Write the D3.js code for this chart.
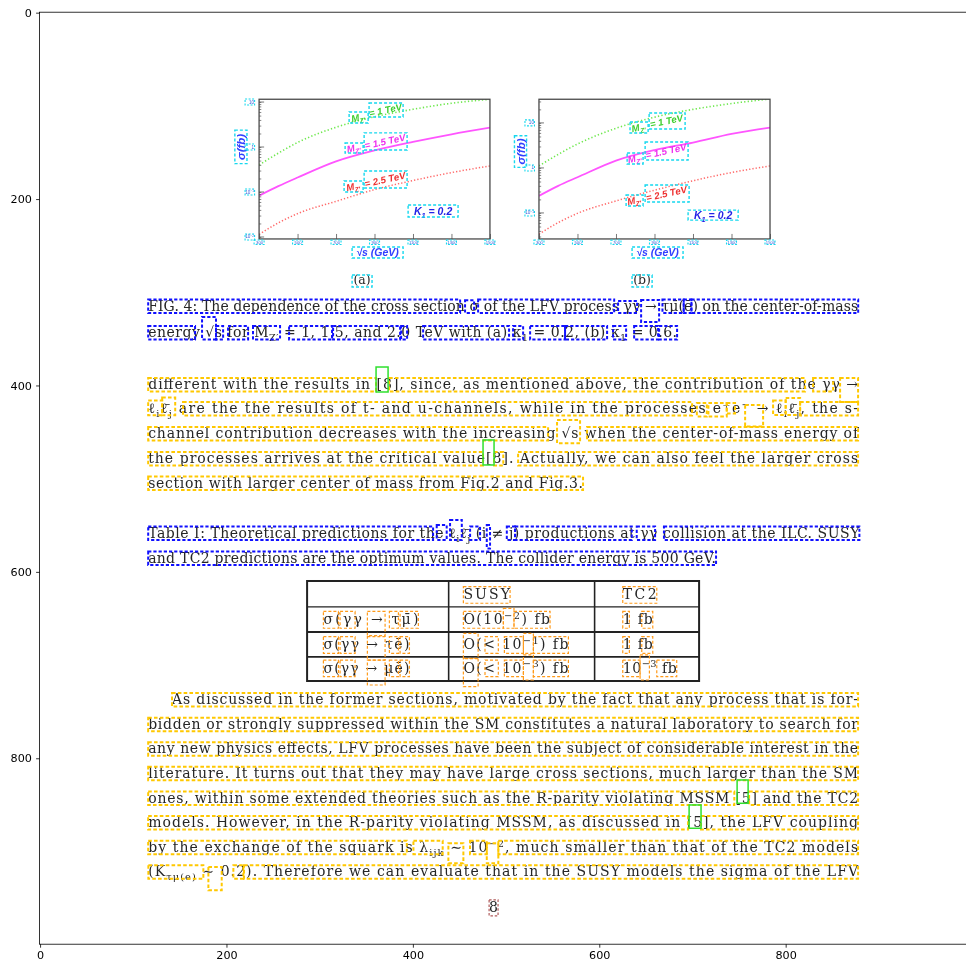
<!DOCTYPE html>
<html>
<head>
<meta charset="utf-8">
<title>Page 8 with layout boxes</title>
<script src="https://cdn.jsdelivr.net/npm/d3@7"></script>
<style>
  html, body { margin: 0; padding: 0; background: #ffffff; }
  svg { display: block; }
</style>
</head>
<body>
<svg id="fig" width="966" height="960"></svg>
<script>
// ---------- image axes (pixel coordinates of the page scan) ----------
const imageExtent = [-0.5, 999.5];
const axisTicks = [0, 200, 400, 600, 800];

// ---------- FIG. 4 panels: sigma (fb) against sqrt(s) (GeV) ----------
const energies = [300, 400, 500, 700, 900, 1100, 1300, 1500];
const energyTicks = [300, 400, 500, 600, 700, 800, 900, 1000, 1100, 1200, 1300, 1400, 1500];
const energyLabels = [300, 500, 700, 900, 1100, 1300, 1500];
const sigmaA_1TeV = [0.40, 0.73, 1.26, 2.75, 4.7, 6.9, 9.4, 11.5];
const sigmaA_15TeV = [0.083, 0.135, 0.21, 0.48, 0.84, 1.30, 1.92, 2.70];
const sigmaA_25TeV = [0.0114, 0.0206, 0.0331, 0.062, 0.113, 0.18, 0.27, 0.38];
const sigmaB_1TeV = [1.11, 2.0, 3.4, 7.6, 13.4, 20, 27, 34];
const sigmaB_15TeV = [0.24, 0.40, 0.62, 1.46, 2.5, 3.66, 5.7, 7.9];
const sigmaB_25TeV = [0.034, 0.061, 0.098, 0.185, 0.32, 0.52, 0.79, 1.11];
const sigmaDecadesA = [10, 1, 0.1, 0.01];
const sigmaDecadesB = [10, 1, 0.1];
const sigmaDecadeText = { 10: "10", 1: "1", 0.1: "10^{−1}", 0.01: "10^{−2}" };

// panel frames [x0, y0, x1, y1] and image rows of sigma = 0.01 and sigma = 10
const panelFrameA = [235, 92.9, 482.7, 242.8];
const panelFrameB = [535.3, 92.9, 783.2, 242.8];
const sigmaRowsA = [240.7, 95.9];
const sigmaRowsB = [263.2, 118.3];

const panelLabelText = ["M_{Z′}", "= 1 TeV", "M_{Z′}", "= 1.5 TeV", "M_{Z′}", "= 2.5 TeV", "K_{1} = 0.2", "√s (GeV)"];
const panelLabelKind = ["z1", "z1", "z15", "z15", "z25", "z25", "k", "axis"];
const panelLabelBoxesA = [
  [331.6, 106.6, 352, 118.4], [353, 96.9, 389.5, 111.9],
  [327.3, 139.8, 346.6, 150.5], [347.7, 129, 393.8, 147.3],
  [326.2, 180.6, 346.6, 192.4], [347.7, 169.9, 393.8, 188.1],
  [394.9, 206.4, 448.5, 219.2], [334.8, 251.4, 389.5, 263.2]
];
const panelLabelBoxesB = [
  [633, 117.3, 652.4, 129.1], [653.5, 107.6, 692.1, 124.8],
  [629.9, 150.5, 647, 162.3], [649.2, 138.7, 695.3, 158.1],
  [628.8, 195.6, 647, 207.4], [649.2, 184.9, 696.4, 203.1],
  [695.3, 211.9, 749, 222.6], [635.2, 251.4, 689.9, 263.2]
];
const panelYTitle = "σ(fb)";
const panelYTitleBoxes = [[209, 126, 222, 162], [509, 132, 522, 166]];
const panelTags = ["(a)", "(b)"];
const panelTagBoxes = [[334.8, 281.4, 356.2, 294.3], [635.2, 281.4, 656.7, 294.3]];

// ---------- running text ----------
const figCaption = [
  "FIG. 4: The dependence of the cross section σ of the LFV process γγ → τμ̄(ē) on the center-of-mass",
  "energy √s for M_{Z′} = 1, 1.5, and 2.0 TeV with (a) κ_{1} = 0.2, (b) κ_{1} = 0.6."
];
const figCaptionRows = [315.2, 343.7];
const figCaptionSpans = [[116, 877.8], [116, 683.5]];

const paragraphOne = [
  "different with the results in [8], since, as mentioned above, the contribution of the γγ →",
  "ℓ_{i}ℓ̄_{j} are the the results of t- and u-channels, while in the processes e^{+}e^{−} → ℓ_{i}ℓ̄_{j}, the s-",
  "channel contribution decreases with the increasing √s when the center-of-mass energy of",
  "the processes arrives at the critical value[8]. Actually, we can also feel the larger cross",
  "section with larger center of mass from Fig.2 and Fig.3."
];
const paragraphOneRows = [399.5, 425.2, 452, 478.9, 505.2];
const paragraphOneSpans = [[116, 877.7], [116, 877.7], [116, 877.7], [116, 877.7], [116, 582.6]];

const tableCaption = [
  "Table I: Theoretical predictions for the ℓ_{i}ℓ̄_{j} (i ≠ j) productions at γγ collision at the ILC. SUSY",
  "and TC2 predictions are the optimum values. The collider energy is 500 GeV."
];
const tableCaptionRows = [558.8, 585.6];
const tableCaptionSpans = [[116, 879.1], [116, 725.3]];

const paragraphTwo = [
  "As discussed in the former sections, motivated by the fact that any process that is for-",
  "bidden or strongly suppressed within the SM constitutes a natural laboratory to search for",
  "any new physics effects, LFV processes have been the subject of considerable interest in the",
  "literature. It turns out that they may have large cross sections, much larger than the SM",
  "ones, within some extended theories such as the R-parity violating MSSM [5] and the TC2",
  "models. However, in the R-parity violating MSSM, as discussed in [5], the LFV coupling",
  "by the exchange of the squark is λ_{ijk} ∼ 10^{−2}, much smaller than that of the TC2 models",
  "(K_{τμ(e)} ∼  0.2). Therefore we can evaluate that in the SUSY models the sigma of the LFV"
];
const paragraphTwoRows = [737.5, 763.9, 790.3, 816.7, 843.1, 869.5, 895.9, 922.3];
const paragraphTwoSpans = [[141.6, 877.7], [116, 877.7], [116, 877.7], [116, 877.7],
                           [116, 877.7], [116, 877.7], [116, 877.7], [116, 877.7]];

const pageNumber = "8";
const pageNumberBox = [481.8, 952, 491.4, 969.2];

// ---------- Table I ----------
const tableCols = [286.5, 438.4, 595, 707.1];
const tableRows = [609.8, 637.6, 664.5, 691.3, 717.1];
const tableHeader = ["SUSY", "TC2"];
const tableProcess = ["σ(γγ → τμ̄)", "σ(γγ → τē)", "σ(γγ → μē)"];
const tableSUSY = ["O(10^{−2}) fb", "O(< 10^{−1}) fb", "O(< 10^{−3}) fb"];
const tableTC2 = ["1 fb", "1 fb", "10^{−3} fb"];
const tableTextRows = [624.8, 651.5, 678.4, 703.6];
const tableProcessSpans = [[304, 405.9], [304, 396.3], [304, 396.3]];
const tableSUSYSpans = [[454.2, 547.2], [454.2, 566.9], [454.2, 566.9]];
const tableTC2Spans = [[625.2, 657.4], [625.2, 657.4], [625.2, 683.1]];
const tableHeaderSpans = [[454.2, 504.3], [625.2, 661.7]];

// ---------- layout boxes [x0, y0, x1, y1] ----------
const captionBoxes = [
  [116, 307.7, 450.7, 322.2], [456, 308.5, 465.7, 322.2], [470, 307.7, 616, 322.2],
  [620.2, 309.3, 640.6, 322.2], [644.9, 308.3, 664.2, 331.9], [667.8, 307.7, 690.6, 322.2],
  [690.6, 307.7, 698.9, 322.2], [698.9, 307.7, 877.8, 322.2],
  [116, 336.2, 166.3, 350.7], [173.8, 326.5, 188.8, 350.7], [188.8, 336.2, 196.4, 350.7],
  [201.7, 336.2, 223.2, 350.7], [228.5, 336.2, 257.5, 350.7], [267.2, 336.2, 313.3, 350.7],
  [314.4, 336.2, 386.3, 350.7], [387.4, 336.2, 393.8, 350.7], [411, 336.2, 503.2, 350.7],
  [507.5, 336.2, 518.3, 350.7], [525.8, 336.2, 563.3, 350.7], [563.3, 336.2, 608.4, 350.7],
  [614.8, 336.2, 628.8, 350.7], [637.4, 336.2, 663.1, 350.7], [664.2, 336.2, 683.5, 350.7],
  [116, 551.3, 421.7, 565.8], [425.6, 549.7, 436.3, 565.8], [439.9, 544.3, 452.5, 565.8],
  [461.4, 551.3, 472.1, 565.8], [479.3, 549.7, 482.8, 574.8], [500.8, 551.3, 509.7, 565.8],
  [509.7, 551.3, 634.9, 565.8], [640.2, 551.3, 659.9, 565.8], [669.4, 551.3, 879.1, 565.8],
  [116, 578.1, 725.3, 592.6]
];
const textBoxes = [
  [116, 392, 360.5, 406.5], [374.5, 392, 820.8, 406.5], [829.4, 392, 850.9, 406.5], [858.4, 391.9, 877.7, 417.7],
  [116, 416, 131, 432], [131, 413, 145, 432], [153.4, 417.7, 699.6, 432.2], [704.7, 418.8, 715.4, 433.3],
  [717.1, 418.8, 736.8, 433.3], [736.8, 418.8, 745.7, 430], [756.5, 420.9, 775.8, 444.1],
  [786.5, 416, 800, 431.6], [800, 413.4, 815.5, 431.6], [815.5, 417.7, 877.7, 432.2],
  [116, 444.5, 545.1, 459], [554.7, 437, 579.4, 462], [586.9, 444.5, 877.7, 459],
  [116, 471.4, 475.3, 485.9], [487.1, 471.4, 497, 485.9], [512.9, 471.4, 877.7, 485.9],
  [116, 497.7, 582.6, 512.2],
  [141.6, 730, 877.7, 744.5], [116, 756.4, 877.7, 770.9], [116, 782.8, 877.7, 797.3],
  [116, 809.2, 877.7, 823.7], [116, 835.6, 744.9, 850.1], [760.8, 835.6, 877.7, 850.1],
  [116, 862, 695.3, 876.5], [709.2, 862, 877.7, 876.5],
  [116, 888.4, 393.5, 902.9], [400.6, 888.4, 432, 902.9], [438.1, 891.3, 454.2, 912.7],
  [461.3, 888.4, 479.3, 902.9], [479.3, 891.3, 491.7, 912.7], [491.7, 888.4, 877.7, 902.9],
  [116.2, 914.8, 175.2, 929.3], [180.6, 916.7, 194.9, 941.7], [207.4, 914.8, 218.1, 929.3],
  [218.8, 914.8, 877.7, 929.3]
];
const citationBoxes = [
  [360.5, 380.2, 373.4, 407], [475.3, 458.5, 487.1, 485.3],
  [747.9, 823.3, 759.7, 848.3], [696.4, 850.1, 709.2, 875.1]
];
const tableBoxes = [
  [454.2, 615.9, 504.3, 633.7], [625.2, 615.9, 661.7, 633.7],
  [304, 642.4, 320.1, 660.5], [321.9, 642.4, 338, 660.5], [351.2, 642.4, 370.2, 668.5],
  [374.8, 642.4, 384.5, 660.5], [386.3, 642.4, 405.9, 660.5], [454.2, 642.4, 497.1, 660.5],
  [497.1, 639.2, 508.5, 660.5], [508.5, 642.4, 547.2, 660.5], [625.2, 642.4, 632.3, 660.5],
  [645.6, 642.4, 657.4, 660.5],
  [304, 669.5, 320.1, 687.4], [321.9, 669.5, 338, 687.4], [351.2, 669.5, 370.2, 694.6],
  [374.8, 669.5, 384.5, 687.4], [386.3, 669.5, 396.3, 687.4], [454.2, 666, 470, 693],
  [477.4, 669.5, 491.7, 687.4], [498.2, 669.5, 518.6, 687.4], [518.6, 666, 529.3, 687.4],
  [529.3, 669.5, 566.9, 687.4], [625.2, 669.5, 632.3, 687.4], [645.6, 669.5, 657.4, 687.4],
  [304, 694.6, 320.1, 712.5], [321.9, 694.6, 338, 712.5], [351.2, 694.6, 370.2, 721.4],
  [374.8, 694.6, 384.5, 712.5], [386.3, 694.6, 396.3, 712.5], [454.2, 692.7, 470, 723.2],
  [477.4, 694.6, 491.7, 712.5], [498.2, 694.6, 518.6, 712.5], [518.6, 689, 529.3, 716],
  [529.3, 694.6, 566.9, 712.5], [625.2, 694.6, 643.8, 712.5], [643.8, 689, 653.8, 716],
  [661.7, 694.6, 683.1, 712.5]
];

// ---------- drawing ----------
const svg = d3.select("#fig");
const x = d3.scaleLinear().domain(imageExtent).range([39.6, 971.6]);
const y = d3.scaleLinear().domain(imageExtent).range([12.2, 944.2]);

const serif = "'DejaVu Serif', 'Liberation Serif', serif";
const sansBI = "'Liberation Sans', Arial, sans-serif";
const ink = "#262626";
const fs = 14;

const defs = svg.append("defs");
defs.append("clipPath").attr("id", "axclip").append("rect")
  .attr("x", x(imageExtent[0])).attr("y", y(imageExtent[0]))
  .attr("width", x(imageExtent[1]) - x(imageExtent[0]))
  .attr("height", y(imageExtent[1]) - y(imageExtent[0]));
defs.append("filter").attr("id", "soft")
  .attr("x", "-2%").attr("y", "-2%").attr("width", "104%").attr("height", "104%")
  .append("feGaussianBlur").attr("stdDeviation", 0.45);

const plot = svg.append("g").attr("clip-path", "url(#axclip)");
const page = plot.append("g").attr("filter", "url(#soft)");
const marks = plot.append("g");

// text with _{sub} and ^{sup} pieces
function rich(sel, str, size) {
  const parts = str.split(/(_\{[^}]*\}|\^\{[^}]*\})/).filter(p => p.length);
  let shift = 0;
  parts.forEach(p => {
    let dy = 0, small = null, txt = p;
    if (p.startsWith("_{")) { txt = p.slice(2, -1); dy = 0.28 * size; small = 0.7 * size; }
    else if (p.startsWith("^{")) { txt = p.slice(2, -1); dy = -0.38 * size; small = 0.7 * size; }
    const t = sel.append("tspan").attr("dy", +(dy - shift).toFixed(2)).text(txt);
    if (small) t.attr("font-size", small);
    shift = dy;
  });
}

function textBlock(lines, rows, spans, size) {
  lines.forEach((s, i) => {
    const t = page.append("text")
      .attr("x", x(spans[i][0]))
      .attr("y", y(rows[i]) + 0.3 * size)
      .attr("font-family", serif).attr("font-size", size).attr("fill", ink)
      .attr("textLength", (x(spans[i][1]) - x(spans[i][0])).toFixed(1))
      .attr("lengthAdjust", "spacing");
    rich(t, s, size);
  });
}

function drawBoxes(list, color, width, dash) {
  marks.append("g").selectAll("rect").data(list).join("rect")
    .attr("x", d => x(d[0])).attr("y", d => y(d[1]))
    .attr("width", d => x(d[2]) - x(d[0])).attr("height", d => y(d[3]) - y(d[1]))
    .attr("fill", "none").attr("stroke", color).attr("stroke-width", width)
    .attr("stroke-dasharray", dash);
}

const kindColor = { z1: "#3fcf2f", z15: "#ee30ee", z25: "#ee3030", k: "#2424e6", axis: "#3040ff" };
const curveStyle = [
  { color: "#6fe84f", width: 1.6, dash: "1.3,2.2" },
  { color: "#ff55ff", width: 1.8, dash: null },
  { color: "#ff6a6a", width: 1.5, dash: "1.3,2.0" }
];
const cyan = "#16d8ee";

function drawPanel(frame, sigmaRows, series, decades, labelBoxes, titleBox, tag, tagBox, idx) {
  const [u0, v0, u1, v1] = frame;
  const xs = d3.scaleLinear().domain([energies[0], energies[energies.length - 1]]).range([x(u0), x(u1)]);
  const ys = d3.scaleLog().domain([0.01, 10]).range([y(sigmaRows[0]), y(sigmaRows[1])]);
  const g = page.append("g");
  const cid = "panelclip" + idx;
  defs.append("clipPath").attr("id", cid).append("rect")
    .attr("x", x(u0)).attr("y", y(v0)).attr("width", x(u1) - x(u0)).attr("height", y(v1) - y(v0));

  const line = d3.line().x(d => xs(d[0])).y(d => ys(d[1])).curve(d3.curveMonotoneX);
  const cg = g.append("g").attr("clip-path", `url(#${cid})`);
  series.forEach((vals, k) => {
    cg.append("path").datum(energies.map((e, i) => [e, vals[i]]))
      .attr("d", line).attr("fill", "none")
      .attr("stroke", curveStyle[k].color).attr("stroke-width", curveStyle[k].width)
      .attr("stroke-dasharray", curveStyle[k].dash);
  });

  // energy ticks pointing up into the frame
  const bottom = g.append("g").attr("transform", `translate(0,${y(v1)})`);
  bottom.call(d3.axisBottom(xs).tickValues(energyTicks).tickSize(-3).tickFormat(""));
  bottom.call(d3.axisBottom(xs).tickValues(energyLabels).tickSize(-5).tickPadding(2).tickFormat(d3.format("d")));
  bottom.selectAll(".domain").remove();
  bottom.selectAll("line").attr("stroke", "#555").attr("stroke-width", 0.8);
  bottom.selectAll("text").attr("font-size", 4.2).attr("fill", "#3a5bd8").attr("font-family", sansBI);

  // log sigma ticks
  const lo = ys.invert(y(v1)), hi = ys.invert(y(v0));
  const minor = [];
  for (let p = -3; p <= 2; p++) for (let m = 1; m < 10; m++) {
    const v = m * Math.pow(10, p);
    if (v >= lo && v <= hi) minor.push(v);
  }
  const left = g.append("g").attr("transform", `translate(${x(u0)},0)`);
  left.call(d3.axisLeft(ys).tickValues(minor).tickSize(-2.2).tickFormat(""));
  left.selectAll(".domain").remove();
  left.selectAll("line").attr("stroke", "#555").attr("stroke-width", 0.7);
  decades.forEach(dv => {
    g.append("line").attr("x1", x(u0)).attr("x2", x(u0) + 5)
      .attr("y1", ys(dv)).attr("y2", ys(dv)).attr("stroke", "#555").attr("stroke-width", 0.8);
    const t = g.append("text").attr("x", x(u0) - 5).attr("y", ys(dv) + 1.5)
      .attr("text-anchor", "end").attr("font-size", 4.6).attr("fill", "#3a5bd8")
      .attr("font-family", sansBI);
    rich(t, sigmaDecadeText[dv], 4.6);
  });

  // frame
  g.append("rect").attr("x", x(u0)).attr("y", y(v0))
    .attr("width", x(u1) - x(u0)).attr("height", y(v1) - y(v0))
    .attr("fill", "none").attr("stroke", "#4a4a4a").attr("stroke-width", 1.3);

  // curve and axis labels
  panelLabelText.forEach((s, i) => {
    const b = labelBoxes[i];
    const kind = panelLabelKind[i];
    const cx = (x(b[0]) + x(b[2])) / 2, cy = (y(b[1]) + y(b[3])) / 2;
    const size = kind === "axis" ? 10.5 : kind === "k" ? 10.5 : 9.6;
    const rot = kind === "axis" || kind === "k" ? 0 : -12;
    const t = g.append("text")
      .attr("transform", `translate(${cx},${cy + size * 0.35}) rotate(${rot})`)
      .attr("text-anchor", "middle")
      .attr("font-family", sansBI).attr("font-weight", "bold").attr("font-style", "italic")
      .attr("font-size", size).attr("fill", kindColor[kind]);
    rich(t, s, size);
  });
  const tcx = (x(titleBox[0]) + x(titleBox[2])) / 2, tcy = (y(titleBox[1]) + y(titleBox[3])) / 2;
  g.append("text").attr("transform", `translate(${tcx + 4},${tcy}) rotate(-90)`)
    .attr("text-anchor", "middle").attr("font-family", sansBI).attr("font-weight", "bold")
    .attr("font-style", "italic").attr("font-size", 11.5).attr("fill", kindColor.axis)
    .text(panelYTitle);
  g.append("text").attr("x", (x(tagBox[0]) + x(tagBox[2])) / 2).attr("y", y(tagBox[3]) - 3)
    .attr("text-anchor", "middle").attr("font-family", serif).attr("font-size", 12.5)
    .attr("fill", ink).text(tag);

  // boxes around the panel texts
  drawBoxes(labelBoxes.concat([titleBox, tagBox]), cyan, 1.4, "3,2");
  const tickBoxes = energyLabels.map(e => [x.invert(xs(e) - 5), y.invert(y(v1) + 1), x.invert(xs(e) + 5), y.invert(y(v1) + 5.5)])
    .concat(decades.map(dv => [x.invert(x(u0) - 14), y.invert(ys(dv) - 3), x.invert(x(u0) - 4.5), y.invert(ys(dv) + 3)]));
  drawBoxes(tickBoxes, cyan, 1.1, "2,1.5");
}

drawPanel(panelFrameA, sigmaRowsA, [sigmaA_1TeV, sigmaA_15TeV, sigmaA_25TeV], sigmaDecadesA,
  panelLabelBoxesA, panelYTitleBoxes[0], panelTags[0], panelTagBoxes[0], 0);
drawPanel(panelFrameB, sigmaRowsB, [sigmaB_1TeV, sigmaB_15TeV, sigmaB_25TeV], sigmaDecadesB,
  panelLabelBoxesB, panelYTitleBoxes[1], panelTags[1], panelTagBoxes[1], 1);

// running text
textBlock(figCaption, figCaptionRows, figCaptionSpans, fs);
textBlock(paragraphOne, paragraphOneRows, paragraphOneSpans, fs);
textBlock(tableCaption, tableCaptionRows, tableCaptionSpans, fs);
textBlock(paragraphTwo, paragraphTwoRows, paragraphTwoSpans, fs);

// Table I grid
const tg = page.append("g").attr("stroke", "#222").attr("fill", "none");
tg.append("rect").attr("x", x(tableCols[0])).attr("y", y(tableRows[0]))
  .attr("width", x(tableCols[3]) - x(tableCols[0])).attr("height", y(tableRows[4]) - y(tableRows[0]))
  .attr("stroke-width", 2);
tableCols.slice(1, 3).forEach(c => tg.append("line").attr("x1", x(c)).attr("x2", x(c))
  .attr("y1", y(tableRows[0])).attr("y2", y(tableRows[4])).attr("stroke-width", 1.6));
tableRows.slice(1, 4).forEach((r, i) => tg.append("line").attr("x1", x(tableCols[0])).attr("x2", x(tableCols[3]))
  .attr("y1", y(r)).attr("y2", y(r)).attr("stroke-width", i === 0 ? 1.2 : 1.8));

textBlock(tableHeader, [tableTextRows[0], tableTextRows[0]], tableHeaderSpans, fs);
textBlock(tableProcess, tableTextRows.slice(1), tableProcessSpans, fs);
textBlock(tableSUSY, tableTextRows.slice(1), tableSUSYSpans, fs);
textBlock(tableTC2, tableTextRows.slice(1), tableTC2Spans, fs);

// page number
page.append("text").attr("x", (x(pageNumberBox[0]) + x(pageNumberBox[2])) / 2)
  .attr("y", y(pageNumberBox[3]) - 3.5).attr("text-anchor", "middle")
  .attr("font-family", serif).attr("font-size", fs).attr("fill", ink).text(pageNumber);

// layout boxes
drawBoxes(captionBoxes, "#1010ff", 2, "3.2,2");
drawBoxes(textBoxes, "#ffc800", 2, "3.6,2.2");
drawBoxes(tableBoxes, "#ff9a1a", 1.2, "3,2");
drawBoxes(citationBoxes, "#2fe02f", 1.5, null);
drawBoxes([pageNumberBox], "#b05a5a", 1.2, "2.5,1.8");

// image axes
svg.append("rect").attr("x", x(imageExtent[0])).attr("y", y(imageExtent[0]))
  .attr("width", x(imageExtent[1]) - x(imageExtent[0])).attr("height", y(imageExtent[1]) - y(imageExtent[0]))
  .attr("fill", "none").attr("stroke", "#000").attr("stroke-width", 0.8);
const xAxis = svg.append("g").attr("transform", `translate(0,${y(imageExtent[1])})`)
  .call(d3.axisBottom(x).tickValues(axisTicks).tickSize(3.5).tickPadding(3));
const yAxis = svg.append("g").attr("transform", `translate(${x(imageExtent[0])},0)`)
  .call(d3.axisLeft(y).tickValues(axisTicks).tickSize(3.5).tickPadding(4.2));
[xAxis, yAxis].forEach(a => {
  a.select(".domain").remove();
  a.selectAll("line").attr("stroke", "#000").attr("stroke-width", 0.8);
  a.selectAll("text").attr("font-family", "'DejaVu Sans', sans-serif").attr("font-size", 11.2).attr("fill", "#000");
});
</script>
</body>
</html>
